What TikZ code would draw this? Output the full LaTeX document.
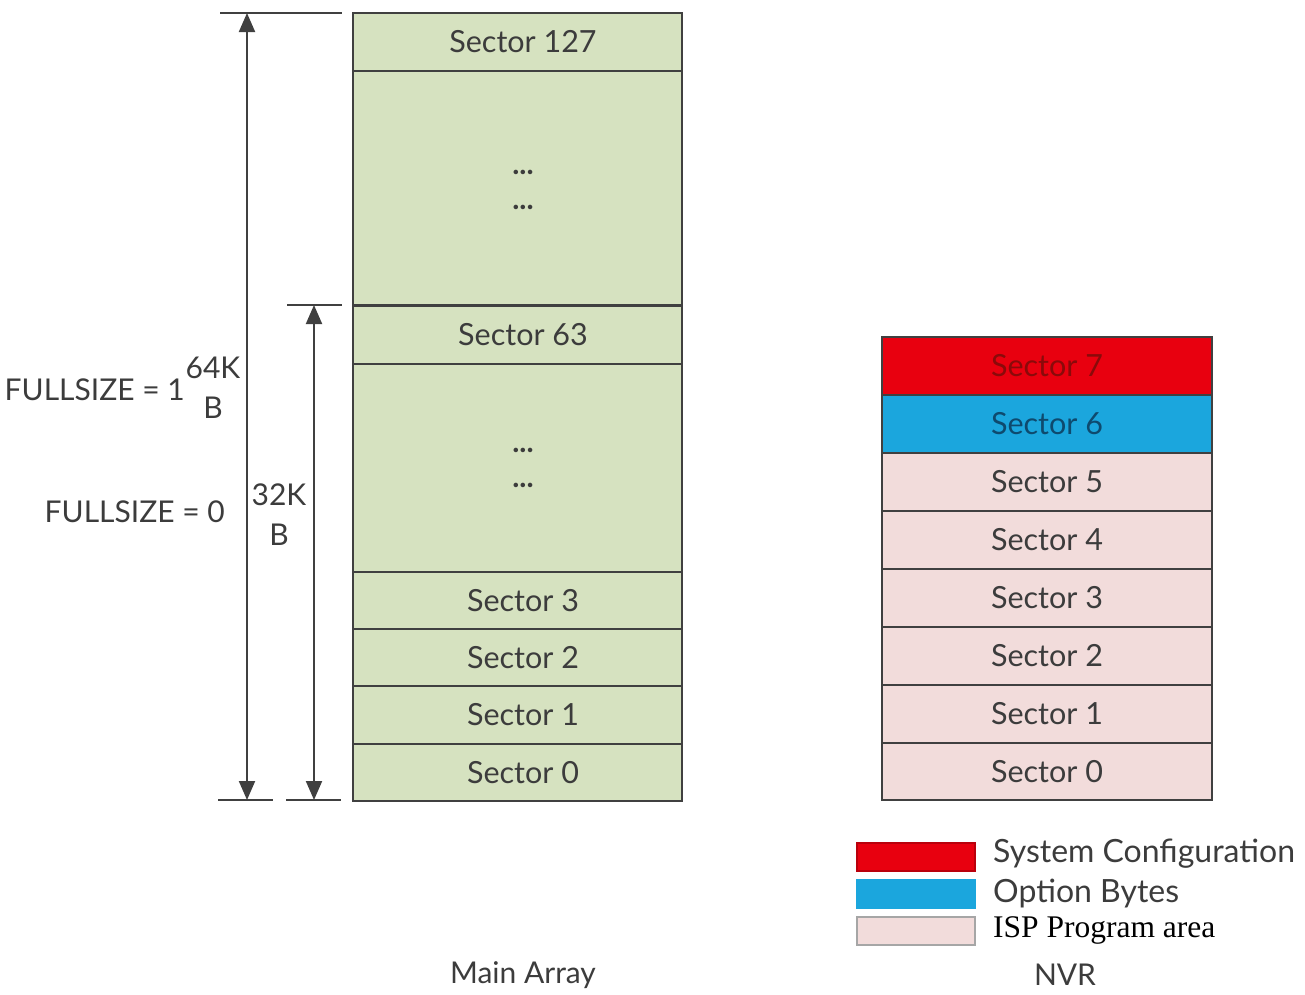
\documentclass[tikz,border=0pt]{standalone}
\usepackage{fontspec}
\setmainfont{Lato}
\newfontfamily\serifx{Liberation Serif}
\usetikzlibrary{arrows.meta}
\definecolor{gfill}{HTML}{D6E2C0}
\definecolor{pfill}{HTML}{F2DCDB}
\definecolor{rfill}{HTML}{E8000F}
\definecolor{bfill}{HTML}{1BA6DD}
\definecolor{edge}{HTML}{404040}
\definecolor{txt}{HTML}{3C3C3C}
\definecolor{rtxt}{HTML}{8A0A0A}
\definecolor{btxt}{HTML}{0E4A6E}
\tikzset{
  cell/.style={draw=edge, line width=2pt, minimum width=329pt, minimum height=58pt, inner sep=0pt, text=txt, font=\fontsize{30.5}{34}\selectfont},
  gcell/.style={cell, fill=gfill, execute at begin node={\hspace*{11pt}}},
  pcell/.style={cell, fill=pfill, minimum width=330pt},
  lbl/.style={text=txt, font=\fontsize{30}{40}\selectfont, inner sep=0pt},
  dots/.style={lbl, font=\fontsize{30}{30}\selectfont},
  dimarrow/.style={line width=2pt, draw=edge, {Triangle[width=16pt,length=19pt]}-{Triangle[width=16pt,length=19pt]}},
  tick/.style={line width=2pt, draw=edge},
  legbox/.style={minimum width=118pt, minimum height=28pt, inner sep=0pt, line width=1.5pt},
}
\begin{document}
\begin{tikzpicture}[x=1pt,y=-1pt]
\useasboundingbox (0,0) rectangle (1305,994);
% main array
\node[gcell] (m127) at (517.5,42) {Sector 127};
\node[gcell, minimum height=234pt] (mdots1) at (517.5,188) {};
\node[gcell] (m63) at (517.5,334.5) {Sector 63};
\node[gcell, minimum height=208pt] (mdots2) at (517.5,468) {};
\node[gcell, minimum height=57pt] (m3) at (517.5,600.5) {Sector 3};
\node[gcell, minimum height=57pt] (m2) at (517.5,657.5) {Sector 2};
\node[gcell] (m1) at (517.5,715) {Sector 1};
\node[gcell, minimum height=57pt] (m0) at (517.5,772.5) {Sector 0};
\node[dots] (d1a) at (523,172) {\textbf{...}};
\node[dots] (d1b) at (523,207) {\textbf{...}};
\node[dots] (d2a) at (523,450) {\textbf{...}};
\node[dots] (d2b) at (523,485) {\textbf{...}};
% dimension lines
\coordinate (t1l) at (220,13); \coordinate (t1r) at (342,13);
\coordinate (b1l) at (218,800); \coordinate (b1r) at (273,800);
\coordinate (t2l) at (287,305); \coordinate (t2r) at (342,305);
\coordinate (b2l) at (286,800); \coordinate (b2r) at (341,800);
\coordinate (a1t) at (247,13); \coordinate (a1b) at (247,800);
\coordinate (a2t) at (314,305); \coordinate (a2b) at (314,800);
\draw[tick] (t1l) -- (t1r);
\draw[tick] (b1l) -- (b1r);
\draw[tick] (t2l) -- (t2r);
\draw[tick] (b2l) -- (b2r);
\draw[dimarrow] (a1t) -- (a1b);
\draw[dimarrow] (a2t) -- (a2b);
\node[lbl, anchor=east] (fs1) at (185,390) {FULLSIZE = 1};
\node[lbl, align=center] (k64) at (213,388) {64K\\B};
\node[lbl, anchor=east] (fs0) at (225,512) {FULLSIZE = 0};
\node[lbl, align=center] (k32) at (279,515) {32K\\B};
% NVR
\node[pcell, fill=rfill, text=rtxt] (n7) at (1047,366) {Sector 7};
\node[pcell, fill=bfill, text=btxt] (n6) at (1047,424) {Sector 6};
\node[pcell] (n5) at (1047,482) {Sector 5};
\node[pcell] (n4) at (1047,540) {Sector 4};
\node[pcell] (n3) at (1047,598) {Sector 3};
\node[pcell] (n2) at (1047,656) {Sector 2};
\node[pcell] (n1) at (1047,714) {Sector 1};
\node[pcell, minimum height=57pt] (n0) at (1047,771.5) {Sector 0};
% legend
\node[legbox, fill=rfill, draw=rfill!80!black] (lr) at (916,857) {};
\node[legbox, fill=bfill, draw=bfill] (lb) at (916,894) {};
\node[legbox, fill=pfill, draw=gray!70] (lp) at (916,931) {};
\node[lbl, anchor=west, font=\fontsize{32}{40}\selectfont] (tr) at (993,854) {System Configuration};
\node[lbl, anchor=west, font=\fontsize{32}{40}\selectfont] (tb) at (993,893) {Option Bytes};
\node[anchor=west, inner sep=0pt, font=\serifx\fontsize{31.5}{34}\selectfont] (tp) at (993,930) {ISP Program area};
% captions
\node[lbl] (cm) at (523,975) {Main Array};
\node[lbl] (cn) at (1065,975) {NVR};
\end{tikzpicture}
\end{document}
